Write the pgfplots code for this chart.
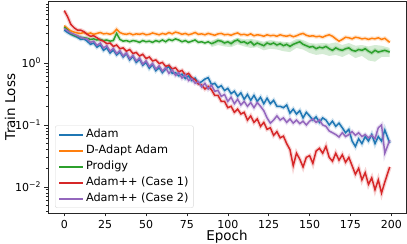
\documentclass[border=0pt]{standalone}
\usepackage{fontspec}
\setmainfont{DejaVu Sans}
\usepackage{pgfplots}
\pgfplotsset{compat=1.18}
\usepackage{pgfplotstable}
\usepgfplotslibrary{fillbetween}
\definecolor{tabblue}{HTML}{1F77B4}
\definecolor{taborange}{HTML}{FF7F0E}
\definecolor{tabgreen}{HTML}{2CA02C}
\definecolor{tabred}{HTML}{D62728}
\definecolor{tabpurple}{HTML}{9467BD}

\pgfplotstableread{
e adam dadapt prodigy case1 case2
0 3.4 4.0 3.8 7.0 3.6
2 3.1 3.6 3.4 5.6 3.3
4 2.9 3.3 3.0 4.2 3.05
6 2.75 3.15 2.8 3.7 2.9
8 2.6 3.05 2.7 3.4 2.75
10 2.4 3.0 2.6 3.4 2.6
12 2.45 3.1 2.55 3.2 2.5
14 2.25 2.95 2.5 2.9 2.45
16 2.0 3.05 2.4 2.7 2.15
18 2.1 2.9 2.45 2.75 2.25
20 1.8 3.0 2.35 2.55 1.92
22 1.95 3.1 2.4 2.35 2.1
24 1.6 2.95 2.3 2.25 1.75
26 1.75 3.0 2.35 2.05 1.9
28 1.45 2.9 2.25 2.1 1.55
30 1.62 3.05 2.3 1.85 1.72
32 1.35 3.5 3.0 1.95 1.42
34 1.5 3.1 2.4 1.7 1.58
36 1.25 2.95 2.25 1.75 1.3
38 1.42 2.9 2.3 1.55 1.45
40 1.12 3.0 2.2 1.65 1.18
42 1.28 2.85 2.3 1.42 1.32
44 1.02 2.95 2.25 1.48 1.08
46 1.15 2.9 2.15 1.3 1.2
48 0.92 3.0 2.3 1.38 0.96
50 1.02 2.85 2.2 1.18 1.08
52 0.82 2.9 2.25 1.25 0.88
54 0.94 3.05 2.15 1.08 0.98
56 0.75 2.95 2.3 1.12 0.8
58 0.84 2.85 2.2 0.98 0.9
60 0.7 3.0 2.35 1.02 0.74
62 0.8 2.9 2.2 0.88 0.84
64 0.88 3.1 2.4 0.92 0.68
66 0.68 2.95 2.3 0.8 0.78
68 0.7 3.15 2.45 0.84 0.63
70 0.62 3.05 2.35 0.72 0.7
72 0.66 2.9 2.2 0.76 0.57
74 0.56 3.0 2.3 0.64 0.65
76 0.62 2.85 2.15 0.68 0.52
78 0.52 2.95 2.25 0.58 0.56
80 0.57 3.1 2.35 0.54 0.47
82 0.47 2.9 2.15 0.46 0.5
84 0.5 2.95 2.2 0.44 0.41
86 0.55 2.85 2.1 0.38 0.47
88 0.58 3.0 2.2 0.42 0.38
90 0.45 2.9 2.05 0.37 0.44
92 0.47 2.8 2.15 0.3 0.35
94 0.4 2.95 2.3 0.3 0.36
96 0.43 3.0 2.25 0.24 0.29
98 0.36 2.85 2.1 0.24 0.31
100 0.39 2.9 2.2 0.19 0.24
102 0.32 2.8 2.05 0.2 0.28
104 0.35 2.95 2.25 0.16 0.22
106 0.29 3.05 2.35 0.18 0.26
108 0.33 2.85 2.15 0.15 0.21
110 0.26 2.9 2.2 0.16 0.24
112 0.31 2.8 2.05 0.12 0.2
114 0.25 2.95 2.2 0.14 0.23
116 0.3 2.75 1.95 0.11 0.19
118 0.24 2.85 2.1 0.125 0.23
120 0.28 2.8 2.0 0.095 0.2
122 0.22 2.7 1.9 0.11 0.17
124 0.27 2.85 2.1 0.085 0.13
126 0.22 2.75 2.0 0.09 0.107
128 0.25 2.8 2.1 0.068 0.12
130 0.2 2.7 1.95 0.078 0.14
132 0.2 2.85 2.05 0.062 0.12
134 0.19 2.75 1.9 0.066 0.13
136 0.21 2.7 2.0 0.05 0.11
138 0.155 2.8 1.85 0.04 0.125
140 0.18 2.65 2.0 0.022 0.107
142 0.15 2.75 2.1 0.035 0.12
144 0.17 2.9 2.2 0.028 0.105
146 0.13 3.0 2.0 0.021 0.115
148 0.16 2.8 1.9 0.03 0.1
150 0.14 2.7 1.8 0.032 0.115
152 0.12 2.75 1.85 0.024 0.125
154 0.135 2.65 1.7 0.038 0.11
156 0.11 2.7 1.8 0.042 0.12
158 0.13 2.6 1.75 0.035 0.1
160 0.12 2.75 1.85 0.045 0.095
162 0.1 2.85 1.7 0.03 0.08
164 0.115 2.7 1.6 0.026 0.075
166 0.095 2.45 1.75 0.035 0.07
168 0.107 2.25 1.65 0.027 0.064
170 0.09 2.4 1.6 0.033 0.075
172 0.075 2.6 1.7 0.025 0.065
174 0.085 2.55 1.75 0.03 0.07
176 0.055 2.45 1.6 0.022 0.078
178 0.045 2.6 1.55 0.016 0.068
180 0.06 2.55 1.65 0.02 0.075
182 0.05 2.45 1.6 0.013 0.065
184 0.065 2.5 1.7 0.017 0.07
186 0.055 2.4 1.55 0.011 0.062
188 0.07 2.5 1.45 0.014 0.068
190 0.05 2.45 1.6 0.009 0.06
192 0.065 2.55 1.5 0.013 0.09
194 0.055 2.4 1.55 0.008 0.1
196 0.083 2.5 1.6 0.012 0.035
199 0.051 2.15 1.5 0.021 0.057
}\mydata

\pgfplotstableread{
e lo
100 0.15
102 0.14
104 0.13
106 0.12
108 0.12
110 0.1
112 0.09
114 0.1
116 0.08
118 0.09
120 0.07
122 0.075
124 0.06
126 0.06
128 0.05
130 0.05
132 0.042
134 0.045
136 0.033
138 0.025
140 0.014
142 0.022
144 0.018
146 0.013
148 0.018
150 0.02
152 0.013
154 0.022
156 0.012
158 0.007
160 0.025
162 0.018
164 0.014
166 0.02
168 0.015
170 0.02
172 0.014
174 0.017
176 0.012
178 0.009
180 0.012
182 0.0055
184 0.01
186 0.0065
188 0.008
190 0.0055
192 0.008
194 0.005
196 0.0075
199 0.014
}\redlo

\pgfplotstableread{
e lo hi
90 1.8 2.3
94 1.95 2.5
98 1.85 2.3
102 1.8 2.3
106 2.0 2.55
110 1.85 2.4
114 1.75 2.45
118 1.8 2.35
122 1.6 2.2
126 1.7 2.35
130 1.65 2.25
134 1.55 2.2
138 1.5 2.15
142 1.75 2.45
146 1.65 2.35
150 1.45 2.1
154 1.35 2.05
158 1.4 2.1
162 1.3 2.05
166 1.35 2.15
170 1.25 1.95
174 1.4 2.1
178 1.2 1.9
182 1.3 1.95
186 1.1 1.85
190 1.05 1.95
194 1.25 1.9
199 1.25 1.75
}\greenband

\begin{document}
\begin{tikzpicture}
\begin{axis}[
  scale only axis, width=358bp, height=212bp,
  ymode=log, xmin=-9.95, xmax=208.95, ymin=0.0038, ymax=10,
  axis line style={black!85, line width=0.6bp},
  tick align=outside, tick pos=left,
  major tick length=3.5bp, minor tick length=2bp,
  every tick/.style={black!85, line width=0.6bp},
  xtick={0,25,...,200},
  ytick={0.01,0.1,1},
  yticklabels={10\textsuperscript{−2},10\textsuperscript{−1},10\textsuperscript{0}},
  minor ytick={0.004,0.005,0.006,0.007,0.008,0.009,0.02,0.03,0.04,0.05,0.06,0.07,0.08,0.09,0.2,0.3,0.4,0.5,0.6,0.7,0.8,0.9,2,3,4,5,6,7,8,9},
  /pgf/number format/assume math mode=true,
  ticklabel style={font=\fontsize{11bp}{13bp}\selectfont},
  xlabel={Epoch}, ylabel={Train Loss},
  label style={font=\fontsize{13.5bp}{16bp}\selectfont},
  xlabel style={at={(axis description cs:0.5,-0.132)}, anchor=base},
  ylabel style={at={(axis description cs:-0.106,0.5)}, anchor=center},
  legend style={at={(0.0196,0.024)}, anchor=south west, draw=black!15,
    rounded corners=2bp, fill=white, fill opacity=0.8, text opacity=1,
    font=\fontsize{11.3bp}{13bp}\selectfont, cells={anchor=west},
    nodes={inner sep=2bp, text height=8.4bp, text depth=2.6bp},
    inner xsep=3bp, inner ysep=1.5bp, row sep=1bp},
  legend image code/.code={\draw[#1, line width=1.8bp] (0bp,0bp) -- (24bp,0bp);},
]
% bands
\addplot[draw=none, name path=gl, forget plot] table[x=e,y=lo]{\greenband};
\addplot[draw=none, name path=gh, forget plot] table[x=e,y=hi]{\greenband};
\addplot[tabgreen, fill opacity=0.2, draw=none, forget plot] fill between[of=gl and gh];
\addplot[draw=none, name path=rm, forget plot] table[x=e,y=case1]{\mydata};
\addplot[draw=none, name path=rl, forget plot] table[x=e,y=lo]{\redlo};
\addplot[tabred, fill opacity=0.2, draw=none, forget plot] fill between[of=rm and rl, soft clip={domain=100:199}];
% halos
\addplot[tabblue, line width=4bp, opacity=0.2, forget plot] table[x=e,y=adam]{\mydata};
\addplot[taborange, line width=4bp, opacity=0.2, forget plot] table[x=e,y=dadapt]{\mydata};
\addplot[tabgreen, line width=4bp, opacity=0.2, forget plot] table[x=e,y=prodigy]{\mydata};
\addplot[tabred, line width=4bp, opacity=0.2, forget plot] table[x=e,y=case1]{\mydata};
\addplot[tabpurple, line width=4bp, opacity=0.2, forget plot] table[x=e,y=case2]{\mydata};
% lines
\addplot[tabblue, line width=1.5bp, forget plot] table[x=e,y=adam]{\mydata};
\addplot[taborange, line width=1.5bp, forget plot] table[x=e,y=dadapt]{\mydata};
\addplot[tabgreen, line width=1.5bp, forget plot] table[x=e,y=prodigy]{\mydata};
\addplot[tabred, line width=1.5bp, forget plot] table[x=e,y=case1]{\mydata};
\addplot[tabpurple, line width=1.5bp, forget plot] table[x=e,y=case2]{\mydata};
\addlegendimage{tabblue}
\addlegendentry{Adam}
\addlegendimage{taborange}
\addlegendentry{D-Adapt Adam}
\addlegendimage{tabgreen}
\addlegendentry{Prodigy}
\addlegendimage{tabred}
\addlegendentry{Adam++ (Case 1)}
\addlegendimage{tabpurple}
\addlegendentry{Adam++ (Case 2)}
\end{axis}
\pgfresetboundingbox
\useasboundingbox (-48bp,-31bp) rectangle (359bp,213bp);
\end{tikzpicture}
\end{document}
